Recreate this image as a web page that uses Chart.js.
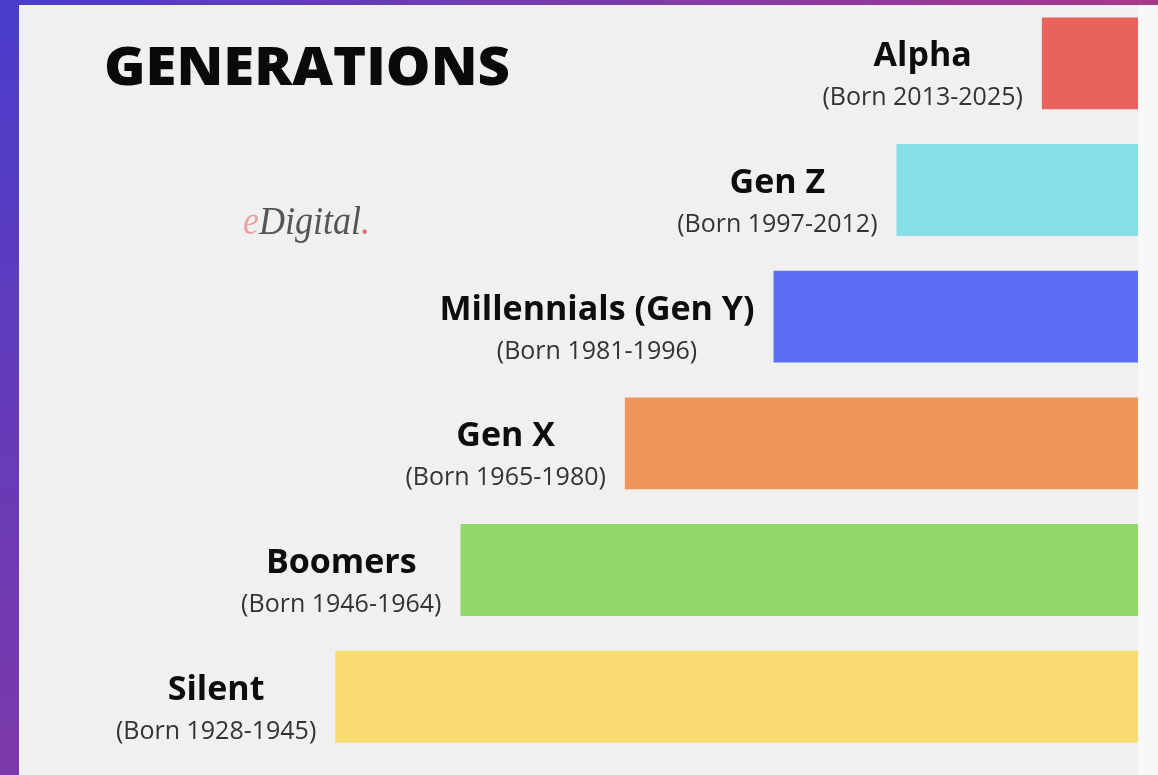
<!DOCTYPE html>
<html>
<head>
<meta charset="utf-8">
<script src="https://cdn.jsdelivr.net/npm/chart.js@4.4.1/dist/chart.umd.min.js"></script>
<style>
  html, body { margin: 0; padding: 0; background: #f0f0f0; }
  #wrap { position: relative; width: 1158px; height: 775px; }
</style>
</head>
<body>
<div id="wrap"><canvas id="gen-chart"></canvas></div>
<script>
// generations, top to bottom
const generations = ["Alpha", "Gen Z", "Millennials (Gen Y)", "Gen X", "Boomers", "Silent"];
const bornRanges = ["(Born 2013-2025)", "(Born 1997-2012)", "(Born 1981-1996)", "(Born 1965-1980)", "(Born 1946-1964)", "(Born 1928-1945)"];
// bar length as % of panel width, measured from the right edge
const barLengths = [8.6, 21.6, 32.6, 45.9, 60.6, 71.8];
const barColors = ["#e9635d", "#86dfe6", "#5b6ef4", "#ef955b", "#92d86a", "#f8dc73"];

const title = "GENERATIONS";

// background: purple frame + light panel
const backdrop = {
  id: "backdrop",
  beforeDraw(chart) {
    const ctx = chart.ctx;
    const w = chart.width, h = chart.height;
    ctx.save();
    let g = ctx.createLinearGradient(0, 0, 0, h);
    g.addColorStop(0, "#4a3dcc");
    g.addColorStop(1, "#7c39a9");
    ctx.fillStyle = g;
    ctx.fillRect(0, 0, 20, h);
    g = ctx.createLinearGradient(0, 0, w, 0);
    g.addColorStop(0, "#4a3dcc");
    g.addColorStop(1, "#a9388c");
    ctx.fillStyle = g;
    ctx.fillRect(0, 0, w, 6);
    ctx.fillStyle = "#f0f0f0";
    ctx.fillRect(19, 5, w - 19, h - 5);
    ctx.fillStyle = "#f8f8f8";
    ctx.fillRect(chart.chartArea.right, 5, w - chart.chartArea.right, h - 5);
    ctx.restore();
  }
};

// title, logo and the two-line labels left of each bar
const labels = {
  id: "labels",
  afterDatasetsDraw(chart) {
    const ctx = chart.ctx;
    ctx.save();
    ctx.fillStyle = "#0a0a0a";
    ctx.textAlign = "left";
    ctx.textBaseline = "alphabetic";
    ctx.font = "800 53px 'Open Sans'";
    const tw = ctx.measureText(title).width;
    ctx.save();
    ctx.translate(104, 85);
    ctx.scale(406 / tw, 1);
    ctx.fillText(title, 0, 0);
    ctx.restore();

    // logo
    ctx.font = "italic 40px 'Liberation Serif'";
    const parts = [["e", "#e8a3a3"], ["Digital", "#555555"], [".", "#e07070"]];
    let total = 0;
    parts.forEach(p => total += ctx.measureText(p[0]).width);
    ctx.save();
    ctx.translate(243, 234);
    ctx.scale(127 / total, 1);
    let px = 0;
    parts.forEach(p => {
      ctx.fillStyle = p[1];
      ctx.fillText(p[0], px, 0);
      px += ctx.measureText(p[0]).width;
    });
    ctx.restore();

    const nameFont = "bold 34px 'Open Sans'";
    const bornFont = "25px 'Open Sans'";
    const meta = chart.getDatasetMeta(0);
    meta.data.forEach((bar, i) => {
      const left = Math.min(bar.x, bar.base);
      const cy = bar.y;
      ctx.font = nameFont;
      const nw = ctx.measureText(generations[i]).width;
      ctx.font = bornFont;
      const bw = ctx.measureText(bornRanges[i]).width;
      const cx = left - 19 - Math.max(nw, bw) / 2;
      ctx.textAlign = "center";
      ctx.fillStyle = "#0d0d0d";
      ctx.font = nameFont;
      ctx.fillText(generations[i], cx, cy + 3);
      ctx.fillStyle = "#333333";
      ctx.font = bornFont;
      ctx.fillText(bornRanges[i], cx, cy + 42);
    });
    ctx.restore();
  }
};

new Chart(document.getElementById("gen-chart"), {
  type: "bar",
  data: {
    labels: generations,
    datasets: [{
      data: barLengths,
      backgroundColor: barColors,
      borderWidth: 0,
      barPercentage: 0.725,
      categoryPercentage: 1
    }]
  },
  options: {
    indexAxis: "y",
    responsive: true,
    maintainAspectRatio: false,
    animation: false,
    layout: { padding: { left: 20, right: 20, top: 0, bottom: 15 } },
    plugins: {
      legend: { display: false },
      tooltip: { enabled: false }
    },
    scales: {
      x: { display: false, reverse: true, min: 0, max: 100 },
      y: { display: false }
    }
  },
  plugins: [backdrop, labels]
});
</script>
</body>
</html>
